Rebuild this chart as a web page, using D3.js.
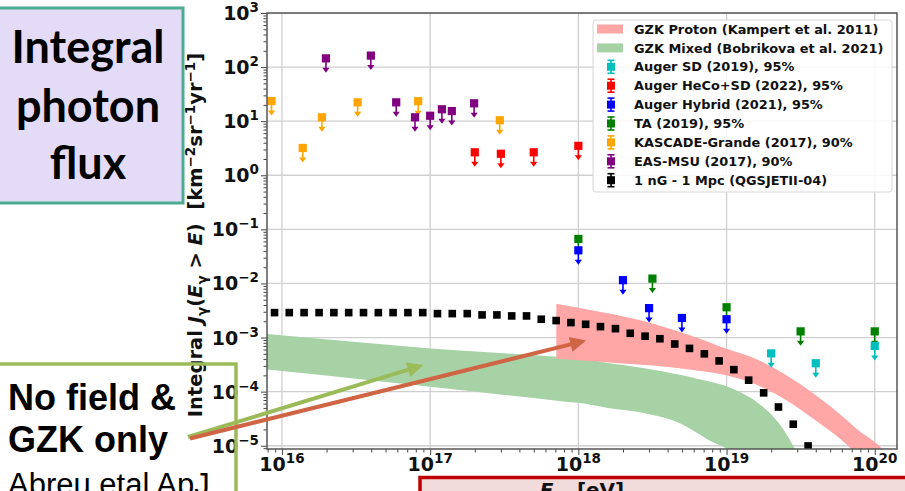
<!DOCTYPE html>
<html>
<head>
<meta charset="utf-8">
<script src="https://cdn.jsdelivr.net/npm/d3@7"></script>
<style>
  html, body { margin: 0; padding: 0; background: #fff; overflow: hidden; }
  text { white-space: pre; }
</style>
</head>
<body>
<svg id="chart" width="905" height="491"></svg>
<script>
// ---------- axes ----------
const xDomain = [7.925e15, 1.413e20];           // photon energy [eV]
const yDomain = [8.7e-6, 1e3];                  // integral flux [km^-2 sr^-1 yr^-1]
const xTickValues = [1e16, 1e17, 1e18, 1e19, 1e20];
const xTickExponents = ["16", "17", "18", "19", "20"];
const yTickValues = [1e-5, 1e-4, 1e-3, 1e-2, 1e-1, 1e0, 1e1, 1e2, 1e3];
const yTickExponents = ["\u22125", "\u22124", "\u22123", "\u22122", "\u22121", "0", "1", "2", "3"];

// ---------- GZK bands ----------
const protonE     = [7.1e17, 1e18, 1.78e18, 3.16e18, 5.6e18, 1e19, 1.58e19, 2.5e19, 3.98e19, 6.3e19, 7.9e19, 1e20, 1.26e20];
const protonUpper = [4.2e-3, 3.55e-3, 2.63e-3, 1.82e-3, 1.12e-3, 6.2e-4, 4.0e-4, 2.05e-4, 8.7e-5, 3.2e-5, 1.86e-5, 1.17e-5, 6.3e-6];
const protonLower = [4.1e-4, 3.8e-4, 3.4e-4, 3.05e-4, 2.57e-4, 2.0e-4, 1.35e-4, 7.1e-5, 2.95e-5, 1.12e-5, 6.3e-6, 3.5e-6, 2.0e-6];

const mixedE     = [7.9e15, 3.16e16, 1e17, 3.16e17, 7.9e17, 1e18, 1.58e18, 2.8e18, 5.0e18, 6.3e18, 7.9e18, 1e19, 1.26e19, 1.58e19, 2.0e19, 2.5e19, 2.95e19];
const mixedUpper = [1.17e-3, 8.3e-4, 6.3e-4, 5.1e-4, 4.3e-4, 4.1e-4, 3.4e-4, 2.7e-4, 2.0e-4, 1.74e-4, 1.51e-4, 1.26e-4, 9.5e-5, 6.6e-5, 3.8e-5, 1.74e-5, 7.9e-6];
const mixedLower = [2.57e-4, 1.74e-4, 1.23e-4, 8.7e-5, 6.6e-5, 6.2e-5, 5.0e-5, 4.0e-5, 2.5e-5, 1.74e-5, 1.2e-5, 8.9e-6, 5.6e-6, 3.5e-6, 2.2e-6, 1.4e-6, 1.0e-6];

// ---------- upper limits ----------
const augerSdE = [2e19, 4e19, 1e20];
const augerSdFlux = [5.1e-4, 3.35e-4, 7.0e-4];
const hecoE = [2e17, 3e17, 5e17, 1e18];
const hecoFlux = [2.66, 2.5, 2.66, 3.5];
const hybridE = [1e18, 2e18, 3e18, 5e18, 1e19];
const hybridFlux = [0.041, 0.0115, 0.0035, 0.0023, 0.00218];
const taE = [1e18, 3.16e18, 1e19, 3.16e19, 1e20];
const taFlux = [0.0665, 0.0123, 0.00363, 0.0013, 0.0013];
const kascadeE = [8.5e15, 1.38e16, 1.86e16, 3.24e16, 8.3e16, 2.95e17];
const kascadeFlux = [23.6, 3.2, 11.8, 22.3, 23.4, 10.4];
const easMsuE = [1.98e16, 3.98e16, 5.9e16, 7.9e16, 1e17, 1.2e17, 1.4e17, 1.98e17];
const easMsuFlux = [145, 163, 22.3, 11.8, 12.6, 16.6, 15.4, 21.4];

// ---------- 1 nG - 1 Mpc prediction ----------
const modelE = [8.91e15, 1.12e16, 1.41e16, 1.78e16, 2.24e16, 2.82e16, 3.55e16, 4.47e16, 5.62e16, 7.08e16,
                8.91e16, 1.12e17, 1.41e17, 1.78e17, 2.24e17, 2.82e17, 3.55e17, 4.47e17, 5.62e17, 7.08e17,
                8.91e17, 1.12e18, 1.41e18, 1.78e18, 2.24e18, 2.82e18, 3.55e18, 4.47e18, 5.62e18, 7.08e18,
                8.91e18, 1.12e19, 1.41e19, 1.78e19, 2.24e19, 2.82e19, 3.55e19];
const modelFlux = [2.89e-3, 2.89e-3, 2.89e-3, 2.89e-3, 2.89e-3, 2.89e-3, 2.89e-3, 2.89e-3, 2.89e-3, 2.89e-3,
                   2.89e-3, 2.77e-3, 2.77e-3, 2.77e-3, 2.62e-3, 2.62e-3, 2.51e-3, 2.51e-3, 2.18e-3, 2.06e-3,
                   1.89e-3, 1.76e-3, 1.59e-3, 1.46e-3, 1.20e-3, 1.06e-3, 9.5e-4, 7.6e-4, 6.3e-4, 5.0e-4,
                   3.7e-4, 2.55e-4, 1.63e-4, 9.5e-5, 5.2e-5, 2.5e-5, 9.9e-6];

// ---------- legend ----------
const legendLabels = [
  "GZK Proton (Kampert et al. 2011)",
  "GZK Mixed (Bobrikova et al. 2021)",
  "Auger SD (2019), 95%",
  "Auger HeCo+SD (2022), 95%",
  "Auger Hybrid (2021), 95%",
  "TA (2019), 95%",
  "KASCADE-Grande (2017), 90%",
  "EAS-MSU (2017), 90%",
  "1 nG - 1 Mpc (QGSJETII-04)"
];

// ---------- drawing ----------
const W = 905, H = 491;
const plot = { left: 267, right: 897, top: 13, bottom: 449 };
const colors = {
  proton: "#ffa6a6", mixed: "#a6d2a6",
  sd: "#00bfbf", heco: "#ff0000", hybrid: "#0000ff", ta: "#008000",
  kascade: "#ffa500", msu: "#800080", model: "#000000"
};
const fontMain = "'DejaVu Sans', sans-serif";

const svg = d3.select("#chart");
svg.append("rect").attr("width", W).attr("height", H).attr("fill", "#fff");

const x = d3.scaleLog().domain(xDomain).range([plot.left, plot.right]);
const y = d3.scaleLog().domain(yDomain).range([plot.bottom, plot.top]);

svg.append("defs").append("clipPath").attr("id", "plotClip").append("rect")
  .attr("x", plot.left).attr("y", plot.top)
  .attr("width", plot.right - plot.left).attr("height", plot.bottom - plot.top);

// grid
const grid = svg.append("g").attr("clip-path", "url(#plotClip)")
  .attr("stroke", "#cfcfcf").attr("stroke-width", 1.3);
grid.selectAll("line.gx").data(xTickValues).join("line").attr("class", "gx")
  .attr("x1", d => x(d)).attr("x2", d => x(d)).attr("y1", plot.top).attr("y2", plot.bottom);
grid.selectAll("line.gy").data(yTickValues).join("line").attr("class", "gy")
  .attr("y1", d => y(d)).attr("y2", d => y(d)).attr("x1", plot.left).attr("x2", plot.right);

// bands
const bands = svg.append("g").attr("clip-path", "url(#plotClip)");
const area = d3.area().curve(d3.curveMonotoneX)
  .x(d => x(d.e)).y0(d => y(d.lo)).y1(d => y(d.hi));
bands.append("path")
  .attr("d", area(mixedE.map((e, i) => ({ e, lo: mixedLower[i], hi: mixedUpper[i] }))))
  .attr("fill", colors.mixed);
bands.append("path")
  .attr("d", area(protonE.map((e, i) => ({ e, lo: protonLower[i], hi: protonUpper[i] }))))
  .attr("fill", colors.proton);

// model squares
const marks = svg.append("g").attr("clip-path", "url(#plotClip)");
const ms = 7.6;
marks.selectAll("rect.model").data(modelE.map((e, i) => ({ e, v: modelFlux[i] })))
  .join("rect").attr("class", "model")
  .attr("x", d => x(d.e) - ms / 2).attr("y", d => y(d.v) - ms / 2)
  .attr("width", ms).attr("height", ms).attr("fill", colors.model);

// upper limits: square marker, stem and downward caret
const limitFactor = 0.54;
function drawLimits(es, vs, color) {
  const g = marks.append("g");
  const pts = es.map((e, i) => ({ e, v: vs[i] }));
  g.selectAll("line").data(pts).join("line")
    .attr("x1", d => x(d.e)).attr("x2", d => x(d.e))
    .attr("y1", d => y(d.v)).attr("y2", d => y(d.v * limitFactor) - 2)
    .attr("stroke", color).attr("stroke-width", 1.6);
  g.selectAll("path").data(pts).join("path")
    .attr("d", d => {
      const cx = x(d.e), ty = y(d.v * limitFactor);
      return `M${cx - 3.6},${ty - 5}L${cx + 3.6},${ty - 5}L${cx},${ty}Z`;
    })
    .attr("fill", color);
  const s = 8.2;
  g.selectAll("rect").data(pts).join("rect")
    .attr("x", d => x(d.e) - s / 2).attr("y", d => y(d.v) - s / 2)
    .attr("width", s).attr("height", s).attr("fill", color);
}
drawLimits(taE, taFlux, colors.ta);
drawLimits(augerSdE, augerSdFlux, colors.sd);
drawLimits(hybridE, hybridFlux, colors.hybrid);
drawLimits(hecoE, hecoFlux, colors.heco);
drawLimits(kascadeE, kascadeFlux, colors.kascade);
drawLimits(easMsuE, easMsuFlux, colors.msu);

// axes ticks
function minorTicks(lo, hi, domain) {
  const out = [];
  for (let p = lo; p <= hi; p++) for (let k = 2; k <= 9; k++) {
    const v = k * Math.pow(10, p);
    if (v > domain[0] && v < domain[1]) out.push(v);
  }
  return out;
}
const xMinor = minorTicks(15, 20, xDomain);
const yMinor = minorTicks(-6, 2, yDomain);

function styleAxis(g) {
  g.select(".domain").remove();
  g.selectAll(".tick line").attr("stroke", "#444").attr("stroke-width", 1);
}
svg.append("g").attr("transform", `translate(0,${plot.bottom})`)
  .call(d3.axisBottom(x).tickValues(xMinor).tickSize(3.5).tickFormat("")).call(styleAxis);
svg.append("g").attr("transform", `translate(0,${plot.bottom})`)
  .call(d3.axisBottom(x).tickValues(xTickValues).tickSize(6).tickFormat("")).call(styleAxis);
svg.append("g").attr("transform", `translate(${plot.left},0)`)
  .call(d3.axisLeft(y).tickValues(yMinor).tickSize(3.5).tickFormat("")).call(styleAxis);
svg.append("g").attr("transform", `translate(${plot.left},0)`)
  .call(d3.axisLeft(y).tickValues(yTickValues).tickSize(6).tickFormat("")).call(styleAxis);

// frame
svg.append("rect").attr("x", plot.left).attr("y", plot.top)
  .attr("width", plot.right - plot.left).attr("height", plot.bottom - plot.top)
  .attr("fill", "none").attr("stroke", "#555").attr("stroke-width", 1.5);

// tick labels
const tickFont = 19, expFont = 13.5;
xTickValues.forEach((v, i) => {
  const t = svg.append("text").attr("x", x(v)).attr("y", 471)
    .attr("text-anchor", "middle").attr("font-family", fontMain)
    .attr("font-weight", "bold").attr("font-size", tickFont).attr("fill", "#111");
  t.append("tspan").text("10");
  t.append("tspan").attr("dy", -8).attr("font-size", expFont).text(xTickExponents[i]);
});
yTickValues.forEach((v, i) => {
  const t = svg.append("text").attr("x", 259).attr("y", y(v) + 7)
    .attr("text-anchor", "end").attr("font-family", fontMain)
    .attr("font-weight", "bold").attr("font-size", tickFont).attr("fill", "#111");
  t.append("tspan").text("10");
  t.append("tspan").attr("dy", -8).attr("font-size", expFont).text(yTickExponents[i]);
});

// y axis title
const yl = svg.append("text")
  .attr("transform", `translate(202,${235}) rotate(-90)`)
  .attr("text-anchor", "middle").attr("font-family", fontMain)
  .attr("font-weight", "bold").attr("font-size", 19.5).attr("fill", "#111");
yl.append("tspan").text("Integral ");
yl.append("tspan").attr("font-style", "italic").text("J");
yl.append("tspan").attr("dy", 5).attr("font-size", 13.5).text("\u03b3");
yl.append("tspan").attr("dy", -5).text("(");
yl.append("tspan").attr("font-style", "italic").text("E");
yl.append("tspan").attr("dy", 5).attr("font-size", 13.5).text("\u03b3");
yl.append("tspan").attr("dy", -5).text(" > ");
yl.append("tspan").attr("font-style", "italic").text("E");
yl.append("tspan").text(")  [km");
yl.append("tspan").attr("dy", -7).attr("font-size", 13.5).text("\u22122");
yl.append("tspan").attr("dy", 7).text("sr");
yl.append("tspan").attr("dy", -7).attr("font-size", 13.5).text("\u22121");
yl.append("tspan").attr("dy", 7).text("yr");
yl.append("tspan").attr("dy", -7).attr("font-size", 13.5).text("\u22121");
yl.append("tspan").attr("dy", 7).text("]");

// legend
const lg = svg.append("g");
lg.append("rect").attr("x", 593).attr("y", 20).attr("width", 299).attr("height", 172)
  .attr("rx", 3).attr("fill", "#fff").attr("fill-opacity", 0.85)
  .attr("stroke", "#d6d6d6").attr("stroke-width", 1);
const legendColors = [colors.proton, colors.mixed, colors.sd, colors.heco, colors.hybrid,
                      colors.ta, colors.kascade, colors.msu, colors.model];
legendLabels.forEach((label, i) => {
  const cy = 29 + i * 18.9;
  if (i < 2) {
    lg.append("rect").attr("x", 597).attr("y", cy - 4.5).attr("width", 26).attr("height", 9)
      .attr("fill", legendColors[i]);
  } else {
    const c = legendColors[i], cx = 611;
    lg.append("line").attr("x1", cx).attr("x2", cx).attr("y1", cy - 6.5).attr("y2", cy + 6.5)
      .attr("stroke", c).attr("stroke-width", 1.6);
    [-6.5, 6.5].forEach(o => lg.append("line").attr("x1", cx - 3.5).attr("x2", cx + 3.5)
      .attr("y1", cy + o).attr("y2", cy + o).attr("stroke", c).attr("stroke-width", 1.6));
    lg.append("rect").attr("x", cx - 4).attr("y", cy - 4).attr("width", 8).attr("height", 8).attr("fill", c);
  }
  lg.append("text").attr("x", 634).attr("y", cy + 4.6)
    .attr("font-family", fontMain).attr("font-weight", "bold").attr("font-size", 12.9)
    .attr("fill", "#111").text(label);
});

// ---------- slide annotations ----------
// title box
svg.append("rect").attr("x", -5).attr("y", 8).attr("width", 188).attr("height", 195)
  .attr("fill", "#e4dbf6").attr("stroke", "#4bac92").attr("stroke-width", 3);
["Integral", "photon", "flux"].forEach((w, i) => {
  svg.append("text").attr("x", 88).attr("y", [63, 122, 179][i])
    .attr("text-anchor", "middle").attr("font-family", "Lato, 'Open Sans', sans-serif")
    .attr("font-weight", "bold").attr("font-size", 45).attr("fill", "#000").text(w);
});

// scenario box
svg.append("rect").attr("x", -5).attr("y", 364).attr("width", 241).attr("height", 200)
  .attr("fill", "none").attr("stroke", "#9bbb59").attr("stroke-width", 3.5);
svg.append("text").attr("x", 8).attr("y", 410).attr("font-family", "'Liberation Sans', Arial, sans-serif")
  .attr("font-weight", "bold").attr("font-size", 36).attr("fill", "#000").text("No field &");
svg.append("text").attr("x", 8).attr("y", 452).attr("font-family", "'Liberation Sans', Arial, sans-serif")
  .attr("font-weight", "bold").attr("font-size", 36).attr("fill", "#000").text("GZK only");
svg.append("text").attr("x", 8).attr("y", 495).attr("font-family", "'Liberation Sans', Arial, sans-serif")
  .attr("font-size", 31).attr("fill", "#000").text("Abreu etal ApJ");

// arrows from the scenario box to the two bands
function arrow(x0, y0, tipE, tipV, color) {
  const x1 = x(tipE), y1 = y(tipV);
  const dx = x1 - x0, dy = y1 - y0, len = Math.hypot(dx, dy);
  const ux = dx / len, uy = dy / len, hl = 16, hw = 7.5;
  const bx = x1 - ux * hl, by = y1 - uy * hl;
  svg.append("line").attr("x1", x0).attr("y1", y0).attr("x2", bx + ux * 2).attr("y2", by + uy * 2)
    .attr("stroke", color).attr("stroke-width", 4);
  svg.append("path")
    .attr("d", `M${x1},${y1}L${bx - uy * hw},${by + ux * hw}L${bx + uy * hw},${by - ux * hw}Z`)
    .attr("fill", color);
}
arrow(188, 437, 9.0e16, 3.1e-4, "#9bbb59");
arrow(190, 438.5, 1.13e18, 8.8e-4, "#d06545");

// energy box
svg.append("rect").attr("x", 420).attr("y", 477.5).attr("width", 520).attr("height", 60)
  .attr("fill", "#f2dcdb").attr("stroke", "#c00000").attr("stroke-width", 3.5);
const xl = svg.append("text").attr("x", 582).attr("y", 497)
  .attr("text-anchor", "middle").attr("font-family", fontMain)
  .attr("font-weight", "bold").attr("font-size", 20).attr("fill", "#111");
xl.append("tspan").attr("font-style", "italic").text("E");
xl.append("tspan").attr("dy", 5).attr("font-size", 14).text("\u03b3");
xl.append("tspan").attr("dy", -5).text("  [eV]");
</script>
</body>
</html>
